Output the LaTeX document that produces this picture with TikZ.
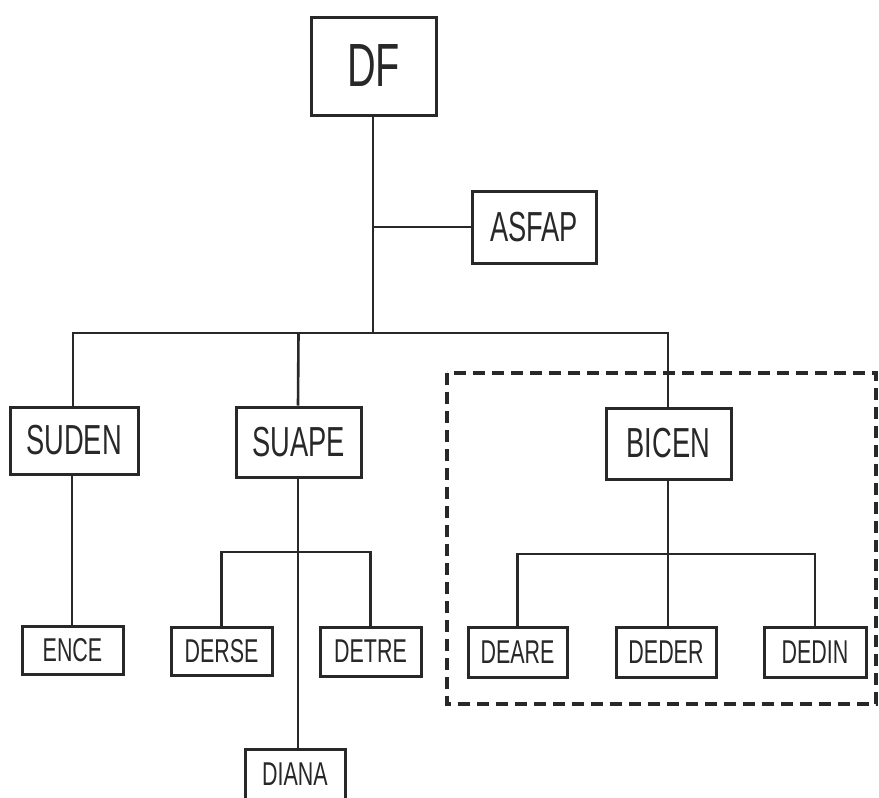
\documentclass[tikz,border=0pt]{standalone}
\usepackage{fontspec}
\setmainfont{Liberation Sans}[FakeStretch=0.65]
\definecolor{ink}{RGB}{40,40,40}
\tikzset{
  unit/.style={draw=ink, line width=3pt, text=ink, inner sep=0pt, font=\fontsize{42}{50}\selectfont},
  top/.style={unit, font=\fontsize{61}{70}\selectfont},
  sub/.style={unit, font=\fontsize{33}{38}\selectfont},
  link/.style={draw=ink, line width=2.6pt},
  frame/.style={draw=ink, line width=3.4pt, dash pattern=on 12pt off 7pt}
}
\begin{document}
\begin{tikzpicture}[x=1pt,y=-1pt]
\useasboundingbox (0,0) rectangle (879,798);
\fill[white] (0,0) rectangle (879,798);
\clip (0,0) rectangle (879,798);
% grouping frame
\draw[frame] (447,373) rectangle (876,704);
% nodes
\node[top,  minimum width=125pt, minimum height=98pt] (DF) at (373.5,66) {DF};
\node[unit, minimum width=124pt, minimum height=72pt] (ASFAP) at (534,227) {ASFAP};
\node[unit, minimum width=128pt, minimum height=67pt] (SUDEN) at (74,440.5) {SUDEN};
\node[unit, minimum width=125pt, minimum height=70pt] (SUAPE) at (298.5,442) {SUAPE};
\node[unit, minimum width=125pt, minimum height=71pt] (BICEN) at (668.5,443.5) {BICEN};
\node[sub, minimum width=101pt, minimum height=48pt] (ENCE) at (72.5,650) {ENCE};
\node[sub, minimum width=101pt, minimum height=48pt] (DERSE) at (221.5,651) {DERSE};
\node[sub, minimum width=101pt, minimum height=49pt] (DETRE) at (370.5,651.5) {DETRE};
\node[sub, minimum width=99pt, minimum height=50pt] (DEARE) at (517.5,652) {DEARE};
\node[sub, minimum width=100pt, minimum height=50pt] (DEDER) at (666,652) {DEDER};
\node[sub, minimum width=102pt, minimum height=50pt] (DEDIN) at (815,652) {DEDIN};
\node[sub, minimum width=100pt, minimum height=50pt] (DIANA) at (295,774) {DIANA};
% junction points
\coordinate (jA) at (373,227);
\coordinate (jB) at (373,333);
\coordinate (jC) at (298,552);
\coordinate (jD) at (668,554);
% connectors
\draw[link] (DF.south -| jB) -- (jB);
\draw[link] (jA) -- (ASFAP.west);
\draw[link] (SUDEN.north -| 73,0) |- (jB);
\draw[link] (BICEN.north -| 668,0) |- (jB);
\draw[link] (SUAPE.north -| jC) -- (SUAPE.north |- jB);
\draw[link] (SUDEN.south -| 72,0) -- (ENCE.north -| 72,0);
\draw[link] (SUAPE.south -| jC) -- (DIANA.north -| jC);
\draw[link] (DERSE.north) |- (jC);
\draw[link] (DETRE.north) |- (jC);
\draw[link] (BICEN.south -| jD) -- (DEDER.north -| jD);
\draw[link] (DEARE.north) |- (jD);
\draw[link] (DEDIN.north) |- (jD);
\end{tikzpicture}
\end{document}
